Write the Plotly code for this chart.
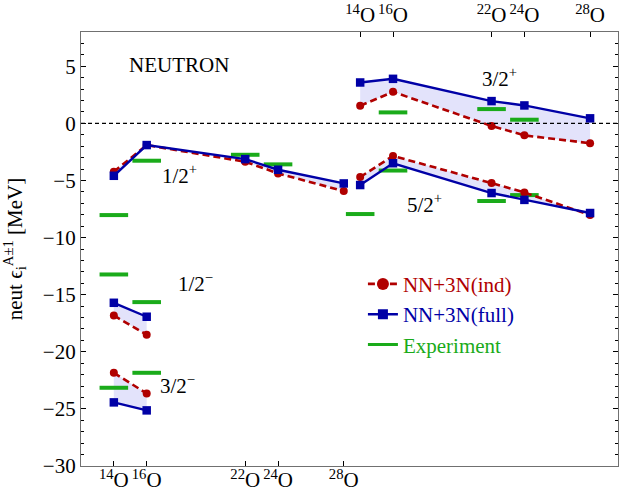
import plotly.graph_objects as go

# ---------------- data ----------------
A_all = [14, 16, 22, 24, 28]
tick_text = ["<sup>14</sup>O", "<sup>16</sup>O", "<sup>22</sup>O", "<sup>24</sup>O", "<sup>28</sup>O"]

# 1/2+ (bottom axis)
s12p_ind = [-4.24, -1.90, -3.36, -4.38, -5.93]
s12p_full = [-4.59, -1.90, -3.13, -4.06, -5.26]
s12p_exp_A = [14, 16, 22, 24]
s12p_exp = [-8.03, -3.27, -2.75, -3.59]

# 3/2+ (top axis)
s32p_ind = [1.54, 2.76, -0.23, -1.05, -1.74]
s32p_full = [3.58, 3.90, 1.95, 1.57, 0.44]
s32p_exp_A = [16, 22, 24]
s32p_exp = [0.96, 1.25, 0.32]

# 5/2+ (top axis)
s52p_ind = [-4.70, -2.85, -5.23, -6.05, -8.02]
s52p_full = [-5.40, -3.49, -6.10, -6.70, -7.85]
s52p_exp_A = [14, 16, 22, 24]
s52p_exp = [-7.94, -4.13, -6.80, -6.28]

# negative parity (bottom axis)
A_neg = [14, 16]
s12m_ind = [-16.82, -18.51]
s12m_full = [-15.71, -16.93]
s12m_exp = [-13.23, -15.65]
s32m_ind = [-21.84, -23.65]
s32m_full = [-24.43, -25.13]
s32m_exp = [-23.15, -21.84]

# ---------------- style ----------------
RED = "#b00000"
BLUE = "#0000a6"
GREEN = "#1aab1a"
FILL = "rgba(215,215,250,0.7)"
FONT = "Liberation Serif"
FRAME = "#707070"
HALF = 0.87  # half-length of experiment bars (in A units)

fig = go.Figure()

sequences = [
    (A_all, s12p_ind, s12p_full, s12p_exp_A, s12p_exp, "x"),
    (A_all, s32p_ind, s32p_full, s32p_exp_A, s32p_exp, "x2"),
    (A_all, s52p_ind, s52p_full, s52p_exp_A, s52p_exp, "x2"),
    (A_neg, s12m_ind, s12m_full, A_neg, s12m_exp, "x"),
    (A_neg, s32m_ind, s32m_full, A_neg, s32m_exp, "x"),
]

# fills
for A, ind, full, eA, ex, xa in sequences:
    fig.add_trace(go.Scatter(
        x=list(A) + list(A)[::-1], y=list(full) + list(ind)[::-1],
        fill="toself", fillcolor=FILL, mode="lines", line=dict(width=0),
        xaxis=xa, yaxis="y", showlegend=False, hoverinfo="skip"))

# experiment bars
for i, (A, ind, full, eA, ex, xa) in enumerate(sequences):
    xs, ys = [], []
    for a, e in zip(eA, ex):
        xs += [a - HALF, a + HALF, None]
        ys += [e, e, None]
    fig.add_trace(go.Scatter(
        x=xs, y=ys, mode="lines", line=dict(color=GREEN, width=4),
        xaxis=xa, yaxis="y", showlegend=False, hoverinfo="skip"))

# ind & full
for i, (A, ind, full, eA, ex, xa) in enumerate(sequences):
    fig.add_trace(go.Scatter(
        x=A, y=ind, mode="lines+markers",
        line=dict(color=RED, width=2.6, dash="7px,4px"),
        marker=dict(symbol="circle", size=8, color=RED),
        xaxis=xa, yaxis="y", showlegend=False, hoverinfo="skip"))
    fig.add_trace(go.Scatter(
        x=A, y=full, mode="lines+markers",
        line=dict(color=BLUE, width=2.4),
        marker=dict(symbol="square", size=8.5, color=BLUE),
        xaxis=xa, yaxis="y", showlegend=False, hoverinfo="skip"))

# legend entries
fig.add_trace(go.Scatter(
    x=[None], y=[None], mode="lines+markers",
    line=dict(color=RED, width=2.6, dash="7px,4px"),
    marker=dict(symbol="circle", size=12, color=RED),
    name=f"<span style='color:{RED}'>NN+3N(ind)</span>"))
fig.add_trace(go.Scatter(
    x=[None], y=[None], mode="lines+markers",
    line=dict(color=BLUE, width=2.6),
    marker=dict(symbol="square", size=10, color=BLUE),
    name=f"<span style='color:{BLUE}'>NN+3N(full)</span>"))
fig.add_trace(go.Scatter(
    x=[None], y=[None], mode="lines",
    line=dict(color=GREEN, width=3),
    name=f"<span style='color:{GREEN}'>Experiment</span>"))

# zero line
fig.add_shape(type="line", xref="paper", x0=0, x1=1, yref="y", y0=0, y1=0,
              line=dict(color="black", width=1.2, dash="4px,3px"))

# labels
labels = [
    ("NEUTRON", 17.98, 5.1),
    ("3/2<sup>+</sup>", 37.5, 4.05),
    ("1/2<sup>+</sup>", 18.0, -4.5),
    ("5/2<sup>+</sup>", 32.9, -7.0),
    ("1/2<sup>\u2212</sup>", 19.0, -13.9),
    ("3/2<sup>\u2212</sup>", 17.9, -22.9),
]
for t, x, y in labels:
    fig.add_annotation(text=t, x=x, y=y, xref="x", yref="y", showarrow=False,
                       font=dict(family=FONT, size=21, color="black"))

axis_common = dict(showline=True, linecolor=FRAME, linewidth=1.3, showgrid=False,
                   zeroline=False, ticks="inside", ticklen=5, tickcolor="black",
                   tickwidth=1, automargin=False,
                   tickfont=dict(family=FONT, size=21, color="black"))

fig.update_layout(
    width=620, height=494,
    margin=dict(l=81, r=2, t=32, b=28),
    plot_bgcolor="white", paper_bgcolor="white",
    font=dict(family=FONT, size=21, color="black"),
    showlegend=True,
    legend=dict(x=0.525, y=0.466, xanchor="left", yanchor="top",
                bgcolor="rgba(0,0,0,0)", font=dict(family=FONT, size=21),
                tracegroupgap=0, itemwidth=30),
    xaxis=dict(range=[12, 44.7], tickvals=A_all, ticktext=tick_text,
               ticklabelstandoff=-5, **axis_common),
    xaxis2=dict(range=[12 - 15, 44.7 - 15], tickvals=A_all, ticktext=tick_text,
                overlaying="x", side="top", anchor="y", ticklabelstandoff=0,
                **axis_common),
    yaxis=dict(range=[-30, 8], tickvals=[-30, -25, -20, -15, -10, -5, 0, 5],
               mirror="ticks",
               minor=dict(dtick=1, ticks="inside", ticklen=3, tickcolor="black"),
               title=dict(text="neut \u03f5<sub>i</sub><sup>A\u00b11</sup> [MeV]",
                          font=dict(family=FONT, size=21)),
               **axis_common),
)

fig.write_html("out.html",
               config={"displayModeBar": False},
               post_script="document.body.style.margin='0';document.body.style.overflow='hidden';")
